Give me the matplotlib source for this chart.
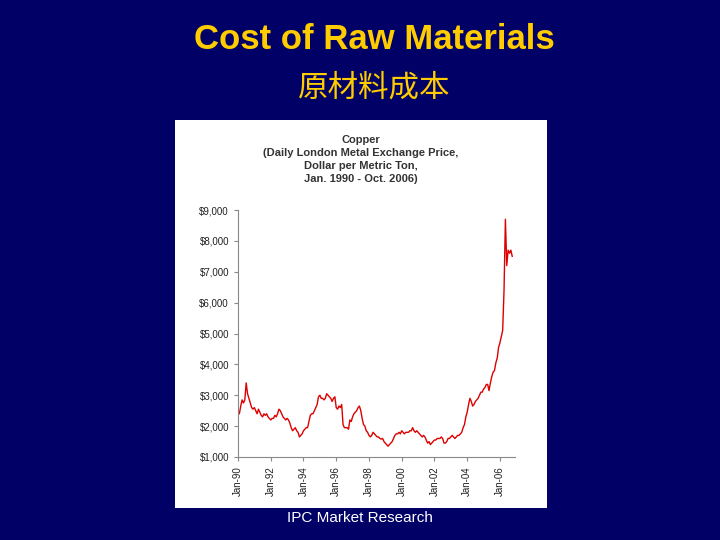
import matplotlib
matplotlib.use("Agg")
import matplotlib.pyplot as plt
import numpy as np

plt.rcParams['font.family'] = ['Liberation Sans', 'Noto Sans CJK SC', 'DejaVu Sans']

title = "Cost of Raw Materials"
subtitle = "原材料成本"
panel_title = "Copper\n(Daily London Metal Exchange Price,\nDollar per Metric Ton,\nJan. 1990 - Oct. 2006)"
footer = "IPC Market Research"
start_year = 1990
monthly_price = [
 2450,2400,2650,2850,2750,2850,3400,3050,2900,2750,2600,2550,
 2600,2500,2400,2550,2450,2350,2300,2400,2350,2400,2300,2250,
 2200,2250,2250,2350,2300,2400,2550,2500,2400,2300,2250,2200,
 2250,2200,2100,1950,1850,1900,1950,1850,1800,1650,1700,1750,
 1850,1900,1950,1950,2150,2350,2400,2400,2500,2600,2700,2950,
 3000,2900,2900,2850,2900,3050,3000,2950,2900,2800,2900,2950,
 2600,2550,2650,2600,2700,2050,1950,1950,1950,1900,2200,2150,
 2300,2400,2450,2500,2600,2650,2500,2250,2050,2000,1850,1800,
 1700,1650,1700,1800,1750,1700,1650,1650,1600,1580,1600,1500,
 1450,1400,1350,1400,1450,1500,1600,1700,1750,1750,1800,1750,
 1850,1800,1750,1800,1800,1800,1850,1850,1950,1850,1800,1850,
 1800,1750,1700,1650,1700,1650,1550,1450,1500,1400,1450,1500,
 1550,1550,1600,1600,1600,1650,1600,1450,1450,1500,1600,1600,
 1650,1700,1650,1600,1650,1700,1700,1750,1800,1950,2050,2300,
 2450,2700,2900,2800,2650,2700,2800,2850,2900,3000,3100,3100,
 3200,3250,3350,3350,3150,3400,3600,3750,3800,4050,4200,4550,
 4700,4900,5100,6400,8700,7200,7700,7600,7700,7500]
yticks = [1000,2000,3000,4000,5000,6000,7000,8000,9000]
xtick_years = [1990,1992,1994,1996,1998,2000,2002,2004,2006]

bg = '#000066'
fig = plt.figure(figsize=(7.2,5.4), dpi=100, facecolor=bg)
fig.text(0.52, 0.926, title, color='#FFCC00', fontsize=25, fontweight='bold', ha='center', va='center')
fig.text(0.52, 0.837, subtitle, color='#FFCC00', fontsize=22, ha='center', va='center',
         family=['Noto Sans CJK SC','DejaVu Sans'])
fig.text(0.5, 0.041, footer, color='white', fontsize=11, ha='center', va='center')

panel = fig.add_axes([175/720, 32/540, 372/720, 388/540])
panel.set_facecolor('white'); panel.set_xticks([]); panel.set_yticks([])
for s in panel.spines.values(): s.set_visible(False)
panel.text(0.5, 0.962, panel_title, transform=panel.transAxes, ha='center', va='top',
           fontsize=8, fontweight='bold', color='#333333', linespacing=1.4)

ax = fig.add_axes([238/720, 83/540, 277/720, 247/540])
x = start_year + np.arange(len(monthly_price))/12.0
ax.plot(x, monthly_price, color='#DD0000', lw=1.0)
ax.set_xlim(1990, 2006.92); ax.set_ylim(1000, 9000)
ax.set_yticks(yticks)
ax.set_yticklabels([f"${v:,}" for v in yticks], fontsize=7)
ax.set_xticks(xtick_years)
ax.set_xticklabels([f"Jan-{y%100:02d}" for y in xtick_years], rotation=90, fontsize=7)
for s in ['top','right']: ax.spines[s].set_visible(False)
for s in ['left','bottom']: ax.spines[s].set_color('#888888')
ax.tick_params(colors='#888888', labelcolor='#222222', length=3)
fig.savefig('out.png', dpi=100, facecolor=bg)
